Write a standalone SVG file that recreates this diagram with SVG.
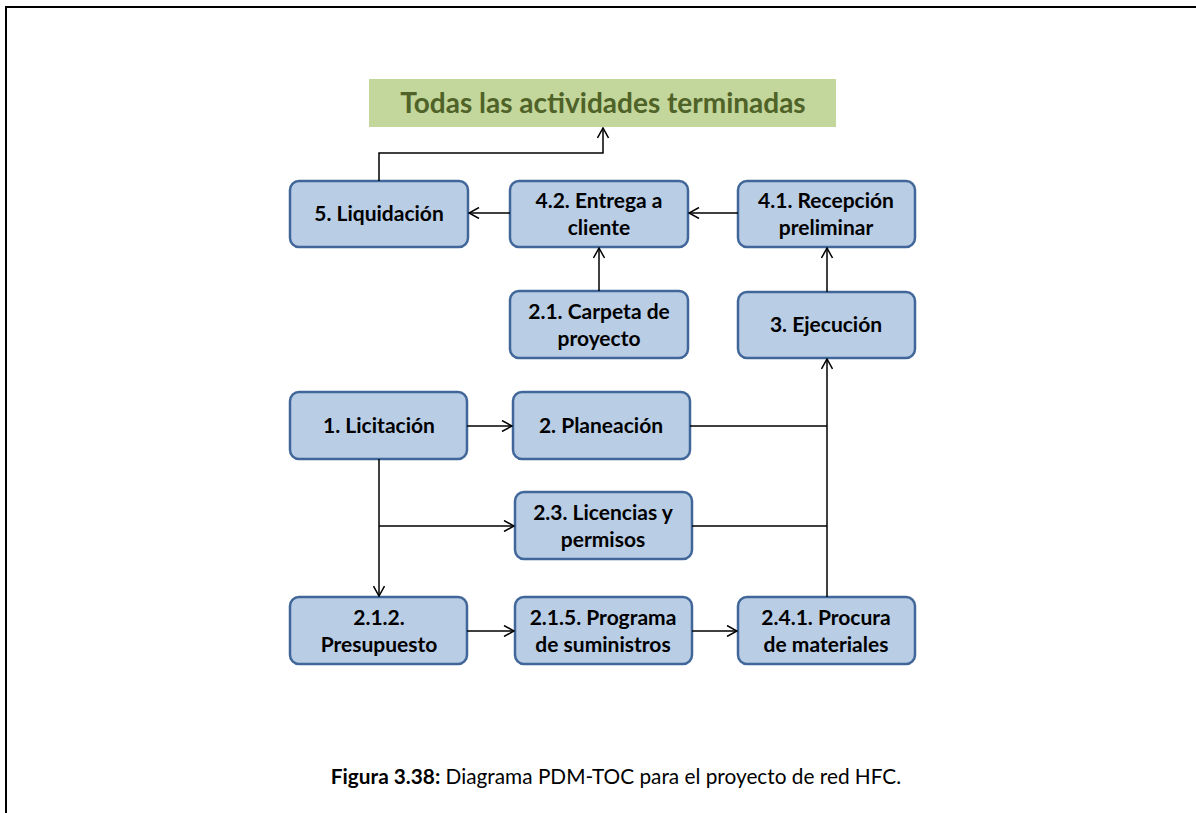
<svg xmlns="http://www.w3.org/2000/svg" width="1196" height="813" viewBox="0 0 1196 813">
<style>
.node rect{fill:#b9cde5;stroke:#41679a;stroke-width:2.5}
.node text{font-family:Lato,"Open Sans","Liberation Sans",sans-serif;font-weight:bold;font-size:21px;fill:#000;text-anchor:middle}
.conn path{fill:none;stroke:#000;stroke-width:1.5}
.cap{font-family:Lato,"Open Sans","Liberation Sans",sans-serif;font-size:20.8px;fill:#000}
</style>
<defs>
<marker id="arr" viewBox="0 0 12 12" refX="11" refY="6" markerWidth="12" markerHeight="12" markerUnits="userSpaceOnUse" orient="auto">
<path d="M1,0.5 L11,6 L1,11.5" fill="none" stroke="#000" stroke-width="1.5"/>
</marker>
</defs>
<rect width="1196" height="813" fill="#fff"/>
<path d="M6,813 V7 H1196" fill="none" stroke="#000" stroke-width="2"/>
<g id="goal">
<rect x="369" y="79" width="467" height="48" fill="#c3d69b"/>
<text x="603" y="113" text-anchor="middle" font-family="Lato,'Open Sans','Liberation Sans',sans-serif" font-weight="bold" font-size="28" fill="#4f6228">Todas las actividades terminadas</text>
</g>
<g id="n5" class="node"><rect x="290" y="181" width="178" height="66" rx="9"/><text x="379" y="221">5. Liquidación</text></g>
<g id="n42" class="node"><rect x="510" y="181" width="178" height="66" rx="9"/><text x="599" y="208">4.2. Entrega a</text><text x="599" y="235">cliente</text></g>
<g id="n41" class="node"><rect x="738" y="181" width="177" height="66" rx="9"/><text x="826" y="208">4.1. Recepción</text><text x="826" y="235">preliminar</text></g>
<g id="n21" class="node"><rect x="510" y="291" width="178" height="67" rx="9"/><text x="599" y="319">2.1. Carpeta de</text><text x="599" y="346">proyecto</text></g>
<g id="n3" class="node"><rect x="738" y="292" width="177" height="66" rx="9"/><text x="826" y="332">3. Ejecución</text></g>
<g id="n1" class="node"><rect x="290" y="392" width="177" height="67" rx="9"/><text x="379" y="433">1. Licitación</text></g>
<g id="n2" class="node"><rect x="513" y="392" width="177" height="67" rx="9"/><text x="601" y="433">2. Planeación</text></g>
<g id="n23" class="node"><rect x="515" y="492" width="177" height="67" rx="9"/><text x="603" y="520">2.3. Licencias y</text><text x="603" y="547">permisos</text></g>
<g id="n212" class="node"><rect x="290" y="597" width="177" height="67" rx="9"/><text x="379" y="625">2.1.2.</text><text x="379" y="652">Presupuesto</text></g>
<g id="n215" class="node"><rect x="515" y="597" width="177" height="67" rx="9"/><text x="603" y="625">2.1.5. Programa</text><text x="603" y="652">de suministros</text></g>
<g id="n241" class="node"><rect x="738" y="597" width="177" height="67" rx="9"/><text x="826" y="625">2.4.1. Procura</text><text x="826" y="652">de materiales</text></g>
<g id="connectors" class="conn">
<path d="M379,181 V153 H603 V128" marker-end="url(#arr)"/>
<path d="M510,213 H469" marker-end="url(#arr)"/>
<path d="M738,213 H689" marker-end="url(#arr)"/>
<path d="M599,291 V248" marker-end="url(#arr)"/>
<path d="M827,292 V248" marker-end="url(#arr)"/>
<path d="M467,426 H512" marker-end="url(#arr)"/>
<path d="M690,426 H827"/>
<path d="M692,526 H827"/>
<path d="M827,597 V359" marker-end="url(#arr)"/>
<path d="M379,459 V596" marker-end="url(#arr)"/>
<path d="M379,526 H514" marker-end="url(#arr)"/>
<path d="M467,631 H514" marker-end="url(#arr)"/>
<path d="M692,631 H737" marker-end="url(#arr)"/>
</g>
<text class="cap" x="616" y="784" text-anchor="middle"><tspan font-weight="bold">Figura 3.38:</tspan> Diagrama PDM-TOC para el proyecto de red HFC.</text>
</svg>
